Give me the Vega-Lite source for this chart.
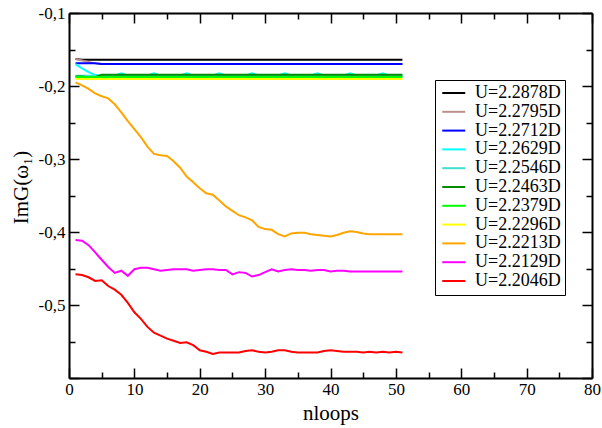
{
"$schema": "https://vega.github.io/schema/vega-lite/v6.json",
"width": 523, "height": 365,
"autosize": {"type": "none"},
"padding": {"left": 69, "top": 13, "right": 10, "bottom": 50},
"background": "white",
"config": {
  "view": {"stroke": null},
  "font": "Liberation Serif",
  "axis": {"grid": false, "domainColor": "black", "domainWidth": 2, "tickColor": "black", "tickWidth": 1.5,
    "labelFont": "Liberation Serif", "labelFontSize": 17, "labelColor": "black",
    "titleFont": "Liberation Serif", "titleFontSize": 21, "titleFontWeight": "normal", "titleColor": "black"},
  "legend": {"labelFont": "Liberation Serif"}
},
"datasets": {
"d": [
{"series":"U=2.2878D","nloops":1,"img":-0.163},{"series":"U=2.2878D","nloops":2,"img":-0.164},{"series":"U=2.2878D","nloops":51,"img":-0.164},
{"series":"U=2.2795D","nloops":1,"img":-0.163},{"series":"U=2.2795D","nloops":2,"img":-0.165},{"series":"U=2.2795D","nloops":3,"img":-0.167},{"series":"U=2.2795D","nloops":4,"img":-0.169},{"series":"U=2.2795D","nloops":5,"img":-0.170},{"series":"U=2.2795D","nloops":51,"img":-0.170},
{"series":"U=2.2712D","nloops":1,"img":-0.169},{"series":"U=2.2712D","nloops":4,"img":-0.169},{"series":"U=2.2712D","nloops":5,"img":-0.170},{"series":"U=2.2712D","nloops":51,"img":-0.170},
{"series":"U=2.2629D","nloops":1,"img":-0.170},{"series":"U=2.2629D","nloops":2,"img":-0.176},{"series":"U=2.2629D","nloops":3,"img":-0.181},{"series":"U=2.2629D","nloops":4,"img":-0.185},{"series":"U=2.2629D","nloops":5,"img":-0.1855},{"series":"U=2.2629D","nloops":7,"img":-0.1855},{"series":"U=2.2629D","nloops":8,"img":-0.1825},{"series":"U=2.2629D","nloops":9,"img":-0.1855},{"series":"U=2.2629D","nloops":12,"img":-0.1855},{"series":"U=2.2629D","nloops":13,"img":-0.1825},{"series":"U=2.2629D","nloops":14,"img":-0.1855},{"series":"U=2.2629D","nloops":17,"img":-0.1855},{"series":"U=2.2629D","nloops":18,"img":-0.1825},{"series":"U=2.2629D","nloops":19,"img":-0.1855},{"series":"U=2.2629D","nloops":22,"img":-0.1855},{"series":"U=2.2629D","nloops":23,"img":-0.1825},{"series":"U=2.2629D","nloops":24,"img":-0.1855},{"series":"U=2.2629D","nloops":27,"img":-0.1855},{"series":"U=2.2629D","nloops":28,"img":-0.1825},{"series":"U=2.2629D","nloops":29,"img":-0.1855},{"series":"U=2.2629D","nloops":32,"img":-0.1855},{"series":"U=2.2629D","nloops":33,"img":-0.1825},{"series":"U=2.2629D","nloops":34,"img":-0.1855},{"series":"U=2.2629D","nloops":37,"img":-0.1855},{"series":"U=2.2629D","nloops":38,"img":-0.1825},{"series":"U=2.2629D","nloops":39,"img":-0.1855},{"series":"U=2.2629D","nloops":42,"img":-0.1855},{"series":"U=2.2629D","nloops":43,"img":-0.1825},{"series":"U=2.2629D","nloops":44,"img":-0.1855},{"series":"U=2.2629D","nloops":47,"img":-0.1855},{"series":"U=2.2629D","nloops":48,"img":-0.1825},{"series":"U=2.2629D","nloops":49,"img":-0.1855},{"series":"U=2.2629D","nloops":51,"img":-0.1855},
{"series":"U=2.2546D","nloops":1,"img":-0.186},{"series":"U=2.2546D","nloops":51,"img":-0.186},
{"series":"U=2.2463D","nloops":1,"img":-0.187},{"series":"U=2.2463D","nloops":2,"img":-0.187},{"series":"U=2.2463D","nloops":3,"img":-0.188},{"series":"U=2.2463D","nloops":4,"img":-0.188},{"series":"U=2.2463D","nloops":5,"img":-0.1845},{"series":"U=2.2463D","nloops":51,"img":-0.1845},
{"series":"U=2.2379D","nloops":1,"img":-0.1875},{"series":"U=2.2379D","nloops":51,"img":-0.1875},
{"series":"U=2.2296D","nloops":1,"img":-0.1905},{"series":"U=2.2296D","nloops":51,"img":-0.1905},
{"series":"U=2.2213D","nloops":1,"img":-0.195},{"series":"U=2.2213D","nloops":2,"img":-0.199},{"series":"U=2.2213D","nloops":3,"img":-0.204},{"series":"U=2.2213D","nloops":4,"img":-0.210},{"series":"U=2.2213D","nloops":5,"img":-0.214},{"series":"U=2.2213D","nloops":6,"img":-0.217},{"series":"U=2.2213D","nloops":7,"img":-0.225},{"series":"U=2.2213D","nloops":8,"img":-0.236},{"series":"U=2.2213D","nloops":9,"img":-0.248},{"series":"U=2.2213D","nloops":10,"img":-0.259},{"series":"U=2.2213D","nloops":11,"img":-0.270},{"series":"U=2.2213D","nloops":12,"img":-0.283},{"series":"U=2.2213D","nloops":13,"img":-0.293},{"series":"U=2.2213D","nloops":14,"img":-0.295},{"series":"U=2.2213D","nloops":15,"img":-0.296},{"series":"U=2.2213D","nloops":16,"img":-0.303},{"series":"U=2.2213D","nloops":17,"img":-0.312},{"series":"U=2.2213D","nloops":18,"img":-0.324},{"series":"U=2.2213D","nloops":19,"img":-0.332},{"series":"U=2.2213D","nloops":20,"img":-0.340},{"series":"U=2.2213D","nloops":21,"img":-0.347},{"series":"U=2.2213D","nloops":22,"img":-0.349},{"series":"U=2.2213D","nloops":23,"img":-0.357},{"series":"U=2.2213D","nloops":24,"img":-0.365},{"series":"U=2.2213D","nloops":25,"img":-0.371},{"series":"U=2.2213D","nloops":26,"img":-0.377},{"series":"U=2.2213D","nloops":27,"img":-0.380},{"series":"U=2.2213D","nloops":28,"img":-0.384},{"series":"U=2.2213D","nloops":29,"img":-0.393},{"series":"U=2.2213D","nloops":30,"img":-0.396},{"series":"U=2.2213D","nloops":31,"img":-0.397},{"series":"U=2.2213D","nloops":32,"img":-0.403},{"series":"U=2.2213D","nloops":33,"img":-0.406},{"series":"U=2.2213D","nloops":34,"img":-0.402},{"series":"U=2.2213D","nloops":35,"img":-0.401},{"series":"U=2.2213D","nloops":36,"img":-0.401},{"series":"U=2.2213D","nloops":37,"img":-0.403},{"series":"U=2.2213D","nloops":38,"img":-0.404},{"series":"U=2.2213D","nloops":39,"img":-0.405},{"series":"U=2.2213D","nloops":40,"img":-0.406},{"series":"U=2.2213D","nloops":41,"img":-0.404},{"series":"U=2.2213D","nloops":42,"img":-0.401},{"series":"U=2.2213D","nloops":43,"img":-0.399},{"series":"U=2.2213D","nloops":44,"img":-0.400},{"series":"U=2.2213D","nloops":45,"img":-0.402},{"series":"U=2.2213D","nloops":46,"img":-0.403},{"series":"U=2.2213D","nloops":47,"img":-0.403},{"series":"U=2.2213D","nloops":48,"img":-0.403},{"series":"U=2.2213D","nloops":49,"img":-0.403},{"series":"U=2.2213D","nloops":50,"img":-0.403},{"series":"U=2.2213D","nloops":51,"img":-0.403},
{"series":"U=2.2129D","nloops":1,"img":-0.411},{"series":"U=2.2129D","nloops":2,"img":-0.412},{"series":"U=2.2129D","nloops":3,"img":-0.418},{"series":"U=2.2129D","nloops":4,"img":-0.428},{"series":"U=2.2129D","nloops":5,"img":-0.438},{"series":"U=2.2129D","nloops":6,"img":-0.448},{"series":"U=2.2129D","nloops":7,"img":-0.456},{"series":"U=2.2129D","nloops":8,"img":-0.453},{"series":"U=2.2129D","nloops":9,"img":-0.460},{"series":"U=2.2129D","nloops":10,"img":-0.451},{"series":"U=2.2129D","nloops":11,"img":-0.449},{"series":"U=2.2129D","nloops":12,"img":-0.449},{"series":"U=2.2129D","nloops":13,"img":-0.451},{"series":"U=2.2129D","nloops":14,"img":-0.453},{"series":"U=2.2129D","nloops":15,"img":-0.452},{"series":"U=2.2129D","nloops":16,"img":-0.451},{"series":"U=2.2129D","nloops":17,"img":-0.451},{"series":"U=2.2129D","nloops":18,"img":-0.451},{"series":"U=2.2129D","nloops":19,"img":-0.453},{"series":"U=2.2129D","nloops":20,"img":-0.452},{"series":"U=2.2129D","nloops":21,"img":-0.451},{"series":"U=2.2129D","nloops":22,"img":-0.451},{"series":"U=2.2129D","nloops":23,"img":-0.452},{"series":"U=2.2129D","nloops":24,"img":-0.452},{"series":"U=2.2129D","nloops":25,"img":-0.458},{"series":"U=2.2129D","nloops":26,"img":-0.455},{"series":"U=2.2129D","nloops":27,"img":-0.456},{"series":"U=2.2129D","nloops":28,"img":-0.461},{"series":"U=2.2129D","nloops":29,"img":-0.459},{"series":"U=2.2129D","nloops":30,"img":-0.455},{"series":"U=2.2129D","nloops":31,"img":-0.451},{"series":"U=2.2129D","nloops":32,"img":-0.454},{"series":"U=2.2129D","nloops":33,"img":-0.452},{"series":"U=2.2129D","nloops":34,"img":-0.451},{"series":"U=2.2129D","nloops":35,"img":-0.452},{"series":"U=2.2129D","nloops":36,"img":-0.452},{"series":"U=2.2129D","nloops":37,"img":-0.453},{"series":"U=2.2129D","nloops":38,"img":-0.452},{"series":"U=2.2129D","nloops":39,"img":-0.452},{"series":"U=2.2129D","nloops":40,"img":-0.454},{"series":"U=2.2129D","nloops":41,"img":-0.453},{"series":"U=2.2129D","nloops":42,"img":-0.453},{"series":"U=2.2129D","nloops":43,"img":-0.454},{"series":"U=2.2129D","nloops":44,"img":-0.454},{"series":"U=2.2129D","nloops":45,"img":-0.454},{"series":"U=2.2129D","nloops":46,"img":-0.454},{"series":"U=2.2129D","nloops":47,"img":-0.454},{"series":"U=2.2129D","nloops":48,"img":-0.454},{"series":"U=2.2129D","nloops":49,"img":-0.454},{"series":"U=2.2129D","nloops":50,"img":-0.454},{"series":"U=2.2129D","nloops":51,"img":-0.454},
{"series":"U=2.2046D","nloops":1,"img":-0.458},{"series":"U=2.2046D","nloops":2,"img":-0.459},{"series":"U=2.2046D","nloops":3,"img":-0.462},{"series":"U=2.2046D","nloops":4,"img":-0.467},{"series":"U=2.2046D","nloops":5,"img":-0.466},{"series":"U=2.2046D","nloops":6,"img":-0.474},{"series":"U=2.2046D","nloops":7,"img":-0.479},{"series":"U=2.2046D","nloops":8,"img":-0.486},{"series":"U=2.2046D","nloops":9,"img":-0.497},{"series":"U=2.2046D","nloops":10,"img":-0.510},{"series":"U=2.2046D","nloops":11,"img":-0.519},{"series":"U=2.2046D","nloops":12,"img":-0.530},{"series":"U=2.2046D","nloops":13,"img":-0.538},{"series":"U=2.2046D","nloops":14,"img":-0.542},{"series":"U=2.2046D","nloops":15,"img":-0.546},{"series":"U=2.2046D","nloops":16,"img":-0.549},{"series":"U=2.2046D","nloops":17,"img":-0.552},{"series":"U=2.2046D","nloops":18,"img":-0.551},{"series":"U=2.2046D","nloops":19,"img":-0.555},{"series":"U=2.2046D","nloops":20,"img":-0.562},{"series":"U=2.2046D","nloops":21,"img":-0.564},{"series":"U=2.2046D","nloops":22,"img":-0.567},{"series":"U=2.2046D","nloops":23,"img":-0.565},{"series":"U=2.2046D","nloops":24,"img":-0.565},{"series":"U=2.2046D","nloops":25,"img":-0.565},{"series":"U=2.2046D","nloops":26,"img":-0.565},{"series":"U=2.2046D","nloops":27,"img":-0.563},{"series":"U=2.2046D","nloops":28,"img":-0.562},{"series":"U=2.2046D","nloops":29,"img":-0.564},{"series":"U=2.2046D","nloops":30,"img":-0.565},{"series":"U=2.2046D","nloops":31,"img":-0.564},{"series":"U=2.2046D","nloops":32,"img":-0.562},{"series":"U=2.2046D","nloops":33,"img":-0.562},{"series":"U=2.2046D","nloops":34,"img":-0.564},{"series":"U=2.2046D","nloops":35,"img":-0.565},{"series":"U=2.2046D","nloops":36,"img":-0.565},{"series":"U=2.2046D","nloops":37,"img":-0.565},{"series":"U=2.2046D","nloops":38,"img":-0.565},{"series":"U=2.2046D","nloops":39,"img":-0.563},{"series":"U=2.2046D","nloops":40,"img":-0.562},{"series":"U=2.2046D","nloops":41,"img":-0.563},{"series":"U=2.2046D","nloops":42,"img":-0.564},{"series":"U=2.2046D","nloops":43,"img":-0.564},{"series":"U=2.2046D","nloops":44,"img":-0.564},{"series":"U=2.2046D","nloops":45,"img":-0.565},{"series":"U=2.2046D","nloops":46,"img":-0.564},{"series":"U=2.2046D","nloops":47,"img":-0.565},{"series":"U=2.2046D","nloops":48,"img":-0.564},{"series":"U=2.2046D","nloops":49,"img":-0.565},{"series":"U=2.2046D","nloops":50,"img":-0.564},{"series":"U=2.2046D","nloops":51,"img":-0.565}
]
},
"data": {"name": "d"},
"layer": [
 {
  "mark": {"type": "line", "strokeWidth": 2, "clip": true},
  "encoding": {
    "x": {"field": "nloops", "type": "quantitative",
      "scale": {"domain": [0, 80], "nice": false, "zero": false},
      "axis": {"orient": "bottom", "title": "nloops", "values": [0,5,10,15,20,25,30,35,40,45,50,55,60,65,70,75,80],
        "labelExpr": "datum.value % 10 === 0 ? '' + datum.value : ''", "labelFlush": false, "labelOverlap": false,
        "labelFont": "Liberation Serif", "labelFontSize": 17, "titleFont": "Liberation Serif", "titleFontSize": 21,
        "tickSize": {"condition": {"test": "datum.value % 10 === 0", "value": -10}, "value": -6},
        "labelPadding": 13, "titleY": 41, "titleBaseline": "alphabetic"}},
    "y": {"field": "img", "type": "quantitative",
      "scale": {"domain": [-0.6, -0.1], "nice": false, "zero": false},
      "axis": {"orient": "left", "title": "ImG(ω₁)", "values": [-0.6,-0.55,-0.5,-0.45,-0.4,-0.35,-0.3,-0.25,-0.2,-0.15,-0.1],
        "labelExpr": "(abs(round(datum.value*100)) % 10 === 0 && datum.value > -0.59) ? '-0,' + abs(round(datum.value*10)) : ''",
        "labelFlush": false, "labelOverlap": false,
        "labelFont": "Liberation Serif", "labelFontSize": 17, "titleFont": "Liberation Serif", "titleFontSize": 21,
        "tickSize": {"condition": {"test": "abs(round(datum.value*100)) % 10 === 0", "value": -10}, "value": -6},
        "labelPadding": 14, "titleX": -48, "titleY": 174, "titleBaseline": "middle", "titleAngle": -90}},
    "color": {"field": "series", "type": "nominal", "sort": null,
      "scale": {"domain": ["U=2.2878D","U=2.2795D","U=2.2712D","U=2.2629D","U=2.2546D","U=2.2463D","U=2.2379D","U=2.2296D","U=2.2213D","U=2.2129D","U=2.2046D"],
        "range": ["#000000","#bc8f8f","#0000ff","#00ffff","#40e0d0","#008b00","#00ff00","#ffff00","#ffa500","#ff00ff","#ff0000"]},
      "legend": {"orient": "none", "legendX": 366, "legendY": 67, "title": null,
        "strokeColor": "black", "fillColor": "white", "padding": 4,
        "symbolType": "M-1,0H3", "symbolSize": 132, "symbolStrokeWidth": 2, "symbolFillColor": "transparent",
        "labelFont": "Liberation Serif", "labelFontSize": 18, "labelColor": "black", "labelOffset": 18,
        "rowPadding": 0.8, "labelLimit": 200}}
  }
 },
 {
  "mark": {"type": "line", "opacity": 0},
  "encoding": {
    "x": {"field": "nloops", "type": "quantitative",
      "axis": {"orient": "top", "title": null, "labels": false, "values": [0,5,10,15,20,25,30,35,40,45,50,55,60,65,70,75,80],
        "tickSize": {"condition": {"test": "datum.value % 10 === 0", "value": -10}, "value": -6}}},
    "y": {"field": "img", "type": "quantitative",
      "axis": {"orient": "right", "title": null, "labels": false, "values": [-0.6,-0.55,-0.5,-0.45,-0.4,-0.35,-0.3,-0.25,-0.2,-0.15,-0.1],
        "tickSize": {"condition": {"test": "abs(round(datum.value*100)) % 10 === 0", "value": -10}, "value": -6}}},
    "detail": {"field": "series", "type": "nominal"}
  }
 }
]
}
